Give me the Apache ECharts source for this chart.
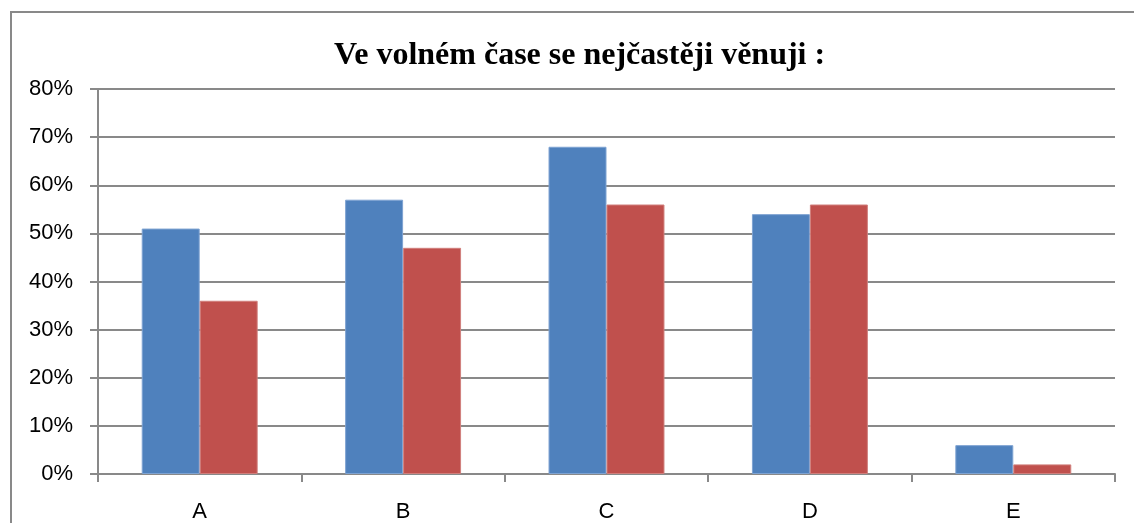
<!DOCTYPE html>
<html>
<head>
<meta charset="utf-8">
<script src="https://cdn.jsdelivr.net/npm/echarts@6/dist/echarts.min.js"></script>
<style>
  html, body { margin: 0; padding: 0; background: #fff; }
  #main { width: 1134px; height: 523px; }
</style>
</head>
<body>
<div id="main"></div>
<script>
// data
const title = "Ve volném čase se nejčastěji věnuji :";
const categories = ["A", "B", "C", "D", "E"];
const seriesBlue = [51, 57, 68, 54, 6];
const seriesRed = [36, 47, 56, 56, 2];
const yTicks = [0, 10, 20, 30, 40, 50, 60, 70, 80];

const lineColor = "#898989";
const labelFont = "Liberation Sans";

let myChart = echarts.init(document.getElementById("main"));

const option = {
  backgroundColor: "#fff",
  animation: false,
  graphic: [
    {
      // outer chart frame (runs past right and bottom edge)
      type: "rect",
      shape: { x: 11, y: 12, width: 1200, height: 600 },
      style: { fill: "none", stroke: lineColor, lineWidth: 2 },
      silent: true
    }
  ],
  title: {
    text: title,
    left: 329,
    top: 35,
    textStyle: {
      fontFamily: "Liberation Serif",
      fontWeight: "bold",
      fontSize: 32,
      color: "#000"
    }
  },
  grid: {
    left: 98,
    right: 19,
    top: 89,
    bottom: 49,
    containLabel: false
  },
  xAxis: {
    type: "category",
    data: categories,
    axisLine: { lineStyle: { color: lineColor, width: 2 } },
    axisTick: {
      show: true,
      alignWithLabel: false,
      length: 8,
      lineStyle: { color: lineColor, width: 2 }
    },
    axisLabel: {
      color: "#000",
      fontFamily: labelFont,
      fontSize: 22,
      margin: 27
    },
    splitLine: { show: false }
  },
  yAxis: {
    type: "value",
    min: yTicks[0],
    max: yTicks[yTicks.length - 1],
    interval: 10,
    axisLine: { show: true, lineStyle: { color: lineColor, width: 2 } },
    axisTick: { show: true, length: 8, lineStyle: { color: lineColor, width: 2 } },
    axisLabel: {
      color: "#000",
      fontFamily: labelFont,
      fontSize: 22,
      margin: 25,
      formatter: "{value}%"
    },
    splitLine: { show: true, lineStyle: { color: lineColor, width: 2 } }
  },
  series: [
    {
      name: "blue",
      type: "bar",
      data: seriesBlue,
      barGap: "0%",
      barCategoryGap: "43%",
      itemStyle: { color: "#4F81BD", borderColor: "#7ea3d2", borderWidth: 1 }
    },
    {
      name: "red",
      type: "bar",
      data: seriesRed,
      itemStyle: { color: "#C0504D", borderColor: "#d07f7c", borderWidth: 1 }
    }
  ]
};

myChart.setOption(option);
</script>
</body>
</html>
